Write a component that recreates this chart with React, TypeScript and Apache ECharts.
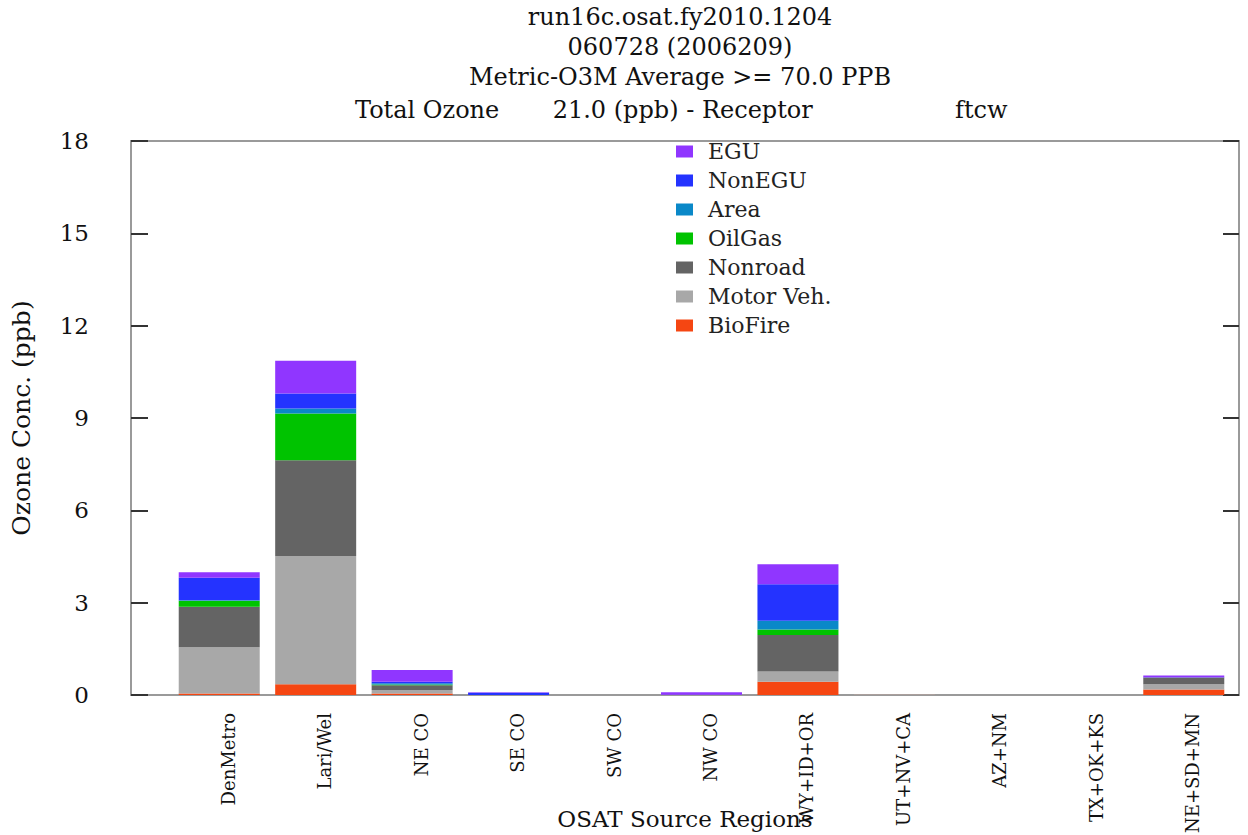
import React, { useEffect, useRef } from "react";
import * as echarts from "echarts";

const categories = ["DenMetro", "Lari/Wel", "NE CO", "SE CO", "SW CO", "NW CO", "WY+ID+OR", "UT+NV+CA", "AZ+NM", "TX+OK+KS", "NE+SD+MN"];
const bioFire = [0.05, 0.35, 0.05, 0, 0, 0, 0.43, 0.01, 0, 0, 0.18];
const motorVeh = [1.5, 4.17, 0.11, 0, 0, 0, 0.33, 0.02, 0, 0, 0.17];
const nonroad = [1.32, 3.11, 0.16, 0, 0, 0, 1.19, 0, 0, 0, 0.22];
const oilGas = [0.19, 1.52, 0.02, 0, 0, 0, 0.18, 0, 0, 0, 0];
const area = [0.02, 0.16, 0.04, 0, 0, 0, 0.28, 0, 0, 0, 0];
const nonEGU = [0.73, 0.49, 0.05, 0.07, 0, 0.01, 1.19, 0, 0, 0, 0.01];
const egu = [0.18, 1.06, 0.38, 0.02, 0, 0.08, 0.65, 0, 0, 0, 0.05];

const seriesDefs = [
  { name: "BioFire", data: bioFire, color: "#F54612" },
  { name: "Motor Veh.", data: motorVeh, color: "#A8A8A8" },
  { name: "Nonroad", data: nonroad, color: "#646464" },
  { name: "OilGas", data: oilGas, color: "#00C300" },
  { name: "Area", data: area, color: "#0A88C8" },
  { name: "NonEGU", data: nonEGU, color: "#2433FF" },
  { name: "EGU", data: egu, color: "#9036FF" },
];

const titleLines = ["run16c.osat.fy2010.1204", "060728 (2006209)", "Metric-O3M Average >= 70.0 PPB"];
const subtitleLeft = "Total Ozone\u00a0\u00a0\u00a0\u00a0\u00a0\u00a0\u00a021.0 (ppb)\u00a0- Receptor";
const subtitleRight = "ftcw";

const FONT = "DejaVu Serif";

export default function App() {
  const ref = useRef<HTMLDivElement>(null);
  useEffect(() => {
    if (!ref.current) return;
    const chart = echarts.init(ref.current, null, { renderer: "svg" });
    const txt = { fontFamily: FONT, color: "#111", fontWeight: "normal" as const };
    chart.setOption({
      animation: false,
      backgroundColor: "#fff",
      title: [
        { text: titleLines.join("\n"), left: 680, top: 2, padding: 0, textAlign: "center", textStyle: { ...txt, fontSize: 24, lineHeight: 30 } },
        { text: subtitleLeft, left: 355, top: 95, padding: 0, textStyle: { ...txt, fontSize: 24, lineHeight: 30 } },
        { text: subtitleRight, left: 955, top: 95, padding: 0, textStyle: { ...txt, fontSize: 24, lineHeight: 30 } },
      ],
      legend: {
        orient: "vertical",
        left: 676,
        top: 139,
        padding: 0,
        itemWidth: 17,
        itemHeight: 12,
        itemGap: 4,
        icon: "rect",
        data: seriesDefs.map((s) => s.name).reverse(),
        textStyle: { ...txt, fontSize: 22, lineHeight: 25, color: "#222", padding: [0, 0, 0, 10] },
      },
      grid: [
        { left: 171, right: 16, top: 141, bottom: 140, outerBoundsMode: "none" },
        { left: 131, right: 9, top: 141, bottom: 140, outerBoundsMode: "none", show: true, borderColor: "#9a9a9a", borderWidth: 2, backgroundColor: "transparent" },
      ],
      xAxis: [
        {
          type: "category",
          gridIndex: 0,
          data: categories,
          axisLine: { show: false },
          axisTick: { show: false },
          axisLabel: { rotate: 90, margin: 18, fontSize: 18, fontFamily: FONT, color: "#111", verticalAlign: "top" },
        },
        {
          type: "value",
          gridIndex: 1,
          min: 0,
          max: 1,
          axisLine: { show: false },
          axisTick: { show: false },
          axisLabel: { show: false },
          splitLine: { show: false },
          name: "OSAT Source Regions",
          nameLocation: "middle",
          nameGap: 112,
          nameTextStyle: { ...txt, fontSize: 23 },
        },
      ],
      yAxis: [
        { type: "value", gridIndex: 0, min: 0, max: 18, interval: 3, show: false },
        {
          type: "value",
          gridIndex: 1,
          position: "left",
          min: 0,
          max: 18,
          interval: 3,
          axisLine: { show: false },
          axisTick: { show: true, inside: true, length: 17, lineStyle: { color: "#333", width: 2 } },
          axisLabel: { margin: 42, fontSize: 23, fontFamily: FONT, color: "#111" },
          splitLine: { show: false },
          name: "Ozone Conc. (ppb)",
          nameLocation: "middle",
          nameGap: 97,
          nameTextStyle: { ...txt, fontSize: 25 },
        },
        {
          type: "value",
          gridIndex: 1,
          position: "right",
          min: 0,
          max: 18,
          interval: 3,
          axisLine: { show: false },
          axisTick: { show: true, inside: true, length: 16, lineStyle: { color: "#333", width: 2 } },
          axisLabel: { show: false },
          splitLine: { show: false },
        },
      ],
      series: seriesDefs.map((s) => ({
        name: s.name,
        type: "bar",
        stack: "total",
        xAxisIndex: 0,
        yAxisIndex: 0,
        barWidth: 81,
        data: s.data,
        itemStyle: { color: s.color },
      })),
    });
    return () => chart.dispose();
  }, []);
  return <div ref={ref} style={{ position: "absolute", left: 0, top: 0, width: 1248, height: 835 }} />;
}
